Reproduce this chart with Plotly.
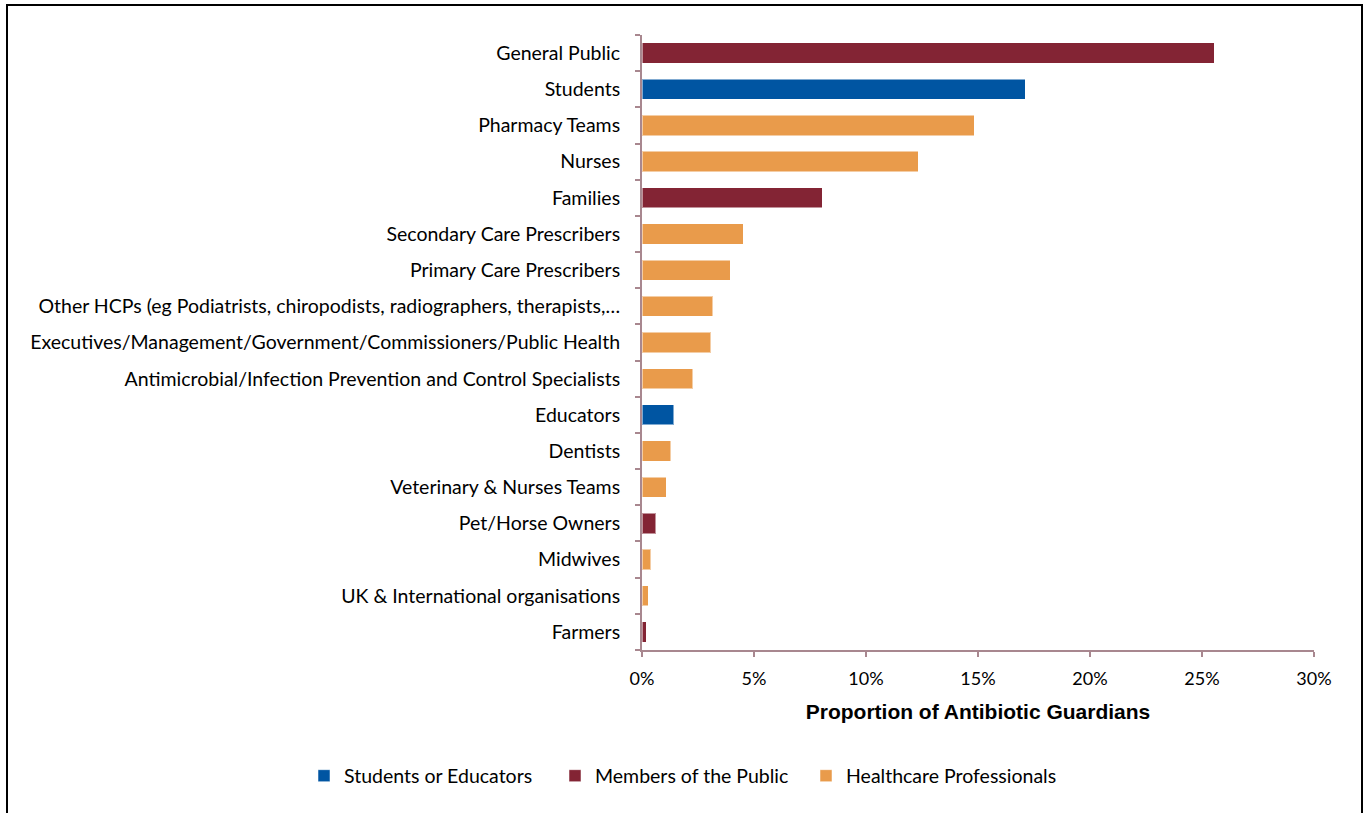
import plotly.graph_objects as go

categories = [
    "General Public",
    "Students",
    "Pharmacy Teams",
    "Nurses",
    "Families",
    "Secondary Care Prescribers",
    "Primary Care Prescribers",
    "Other HCPs (eg Podiatrists, chiropodists, radiographers, therapists,\u2026",
    "Executives/Management/Government/Commissioners/Public Health",
    "Antimicrobial/Infection Prevention and Control Specialists",
    "Educators",
    "Dentists",
    "Veterinary & Nurses Teams",
    "Pet/Horse Owners",
    "Midwives",
    "UK & International organisations",
    "Farmers",
]
values = [25.55, 17.1, 14.84, 12.33, 8.04, 4.52, 3.94, 3.15, 3.07, 2.26,
          1.41, 1.29, 1.08, 0.62, 0.40, 0.27, 0.18]
groups = [
    "Members of the Public", "Students or Educators", "Healthcare Professionals",
    "Healthcare Professionals", "Members of the Public", "Healthcare Professionals",
    "Healthcare Professionals", "Healthcare Professionals", "Healthcare Professionals",
    "Healthcare Professionals", "Students or Educators", "Healthcare Professionals",
    "Healthcare Professionals", "Members of the Public", "Healthcare Professionals",
    "Healthcare Professionals", "Members of the Public",
]
group_order = ["Students or Educators", "Members of the Public", "Healthcare Professionals"]
group_colors = {
    "Students or Educators": "#0055A2",
    "Members of the Public": "#832434",
    "Healthcare Professionals": "#E99B4B",
}
x_ticks = [0, 5, 10, 15, 20, 25, 30]
x_tick_labels = ["0%", "5%", "10%", "15%", "20%", "25%", "30%"]

FONT = "Lato"
AXIS_COLOR = "#A8878F"

fig = go.Figure()
for g in group_order:
    ys = [c for c, gg in zip(categories, groups) if gg == g]
    xs = [v for v, gg in zip(values, groups) if gg == g]
    fig.add_trace(go.Bar(
        x=xs, y=ys, orientation="h", name=g,
        marker=dict(color=group_colors[g],
                    line=dict(color="rgba(255,255,255,0.5)", width=1)),
    ))

fig.update_layout(
    width=1368, height=813,
    barmode="stack",
    bargap=0.44,
    plot_bgcolor="white",
    paper_bgcolor="white",
    margin=dict(l=642, r=54, t=35, b=163, autoexpand=False),
    font=dict(family=FONT, size=19.5, color="#000000"),
    showlegend=True,
    legend=dict(
        orientation="h", xref="paper", yref="paper",
        x=(304 - 642) / 672, xanchor="left", y=(650 - 776) / 615, yanchor="middle",
        font=dict(family=FONT, size=19.5), traceorder="normal",
        itemwidth=30, entrywidth=206, entrywidthmode="pixels",
    ),
    xaxis=dict(
        range=[0, 30], tickvals=x_ticks, ticktext=x_tick_labels,
        showgrid=False, zeroline=False, automargin=False,
        showline=True, linecolor=AXIS_COLOR, linewidth=2,
        ticks="outside", ticklen=5, tickcolor=AXIS_COLOR, tickwidth=2,
        ticklabelstandoff=6,
        tickfont=dict(family=FONT, size=18),
        title=dict(text="<b>Proportion of Antibiotic Guardians</b>",
                   font=dict(family="Liberation Sans, Arial", size=21), standoff=17),
    ),
    yaxis=dict(
        categoryorder="array", categoryarray=categories[::-1],
        showgrid=False, zeroline=False, automargin=False,
        showline=True, linecolor=AXIS_COLOR, linewidth=2,
        ticks="outside", ticklen=5, tickcolor=AXIS_COLOR, tickwidth=2,
        tickson="boundaries",
        ticklabelstandoff=16,
        tickfont=dict(family=FONT, size=19.5),
    ),
    shapes=[dict(
        type="rect", xref="paper", yref="paper",
        x0=(7 - 642) / 672, x1=(1362 - 642) / 672,
        y0=(650 - 830) / 615, y1=(650 - 5) / 615,
        line=dict(color="black", width=2), fillcolor="rgba(0,0,0,0)",
        layer="below",
    )],
)

fig.write_html("out.html",
               config={"displayModeBar": False},
               post_script="document.body.style.margin='0px';document.body.style.padding='0px';")
